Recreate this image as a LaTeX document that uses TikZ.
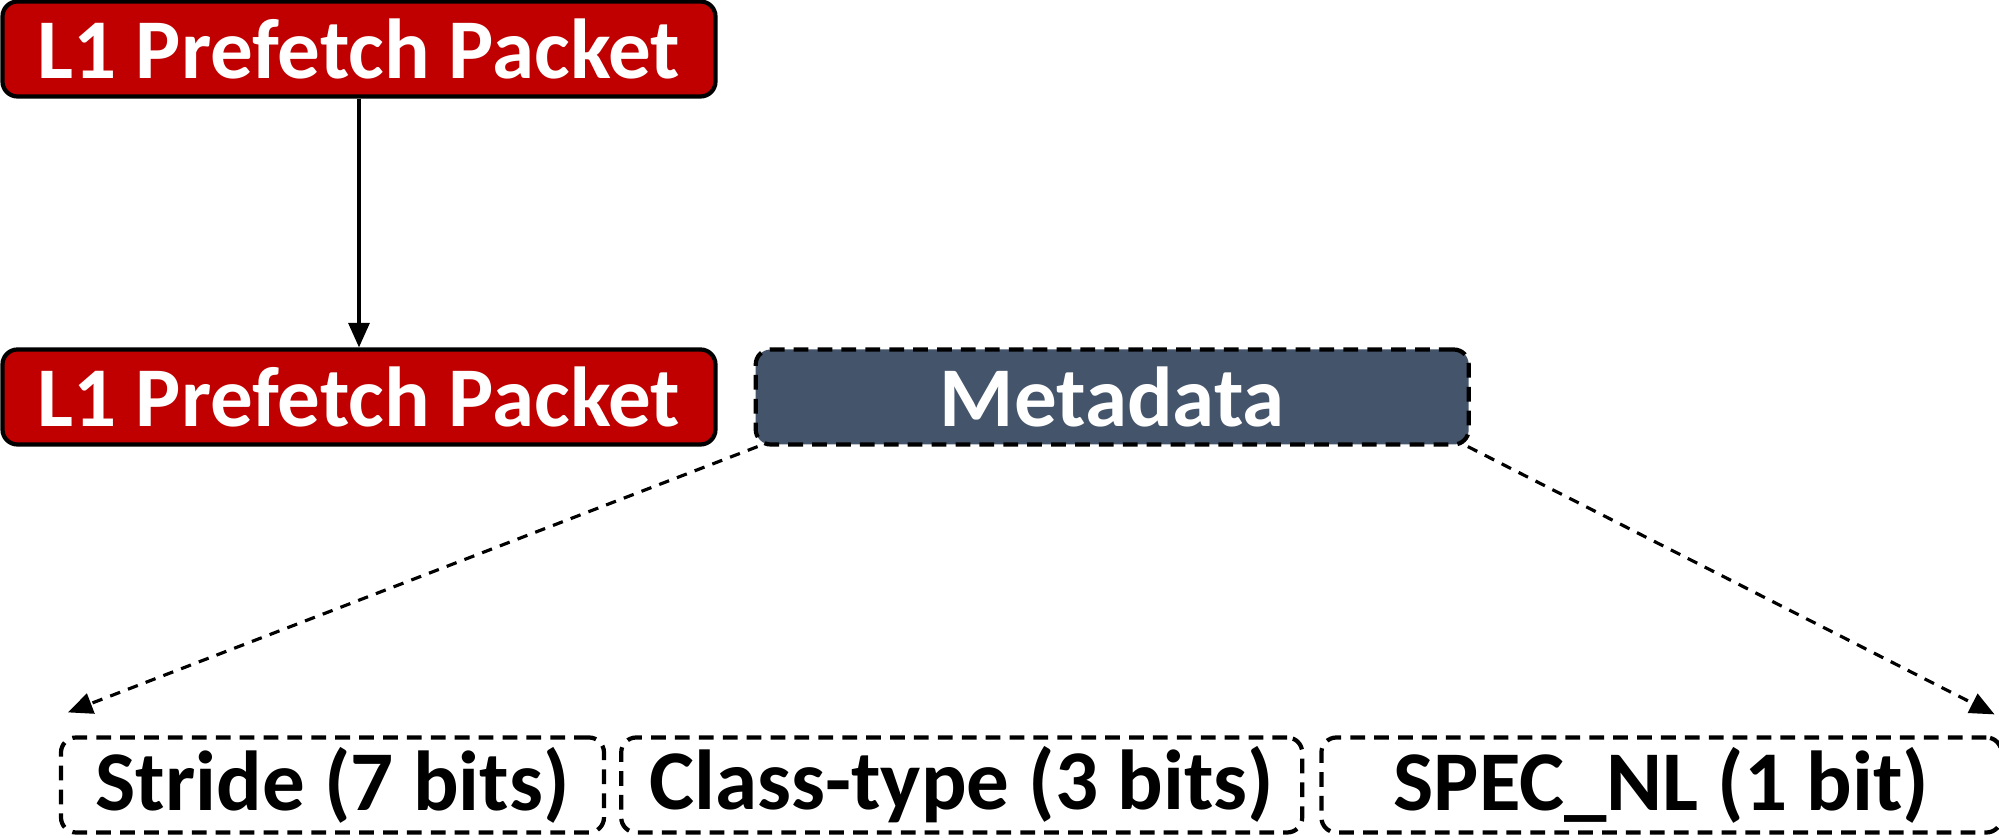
\documentclass[tikz,border=0pt]{standalone}
\usepackage{fontspec}
\setmainfont{Carlito}
\usepackage{xcolor}
\usetikzlibrary{arrows.meta,positioning}

\definecolor{pktred}{HTML}{C00000}
\definecolor{metablue}{HTML}{44546A}

\begin{document}
\begin{tikzpicture}[
    node distance=0.36cm,
    pktbox/.style={rectangle, rounded corners=0.15cm, draw, line width=1.2pt, fill=pktred, text=white, minimum width=7.13cm, minimum height=0.95cm, inner sep=0pt, font=\fontsize{24.2}{26}\selectfont\bfseries},
    metabox/.style={pktbox, fill=metablue, dash pattern=on 4.2pt off 2.6pt},
    fieldbox/.style={rectangle, rounded corners=0.15cm, draw, line width=1.2pt, dash pattern=on 4.2pt off 2.6pt, minimum height=0.95cm, inner sep=0pt, font=\fontsize{24.2}{26}\selectfont\bfseries},
    link/.style={-{Triangle[length=7pt,width=6pt]}, line width=0.9pt},
    zoomlink/.style={link, dash pattern=on 3pt off 2.4pt}
]
\useasboundingbox (0,0) rectangle (19.99,-8.38);

\node[pktbox] (l1top) at (3.59,-0.49) {L1 Prefetch Packet};
\node[pktbox] (l1bot) at (3.59,-3.97) {L1 Prefetch Packet};
\node[metabox, right=of l1bot] (meta) {Metadata};

\node[fieldbox, minimum width=5.43cm] (stride) at (3.325,-7.85) {Stride (7 bits)};
\node[fieldbox, minimum width=6.81cm, right=0.13cm of stride] (class) {Class-type (3 bits)};
\node[fieldbox, minimum width=6.8cm, right=0.15cm of class] (spec) {SPEC\_NL (1 bit)};

\coordinate (leftend) at ([shift={(0.09,0.23)}]stride.north west);
\coordinate (rightend) at ([shift={(-0.09,0.21)}]spec.north east);

\draw[link] (l1top) -- (l1bot);
\draw[zoomlink] ([xshift=0.04cm]meta.south west) -- (leftend);
\draw[zoomlink] ([xshift=-0.03cm]meta.south east) -- (rightend);
\end{tikzpicture}
\end{document}
